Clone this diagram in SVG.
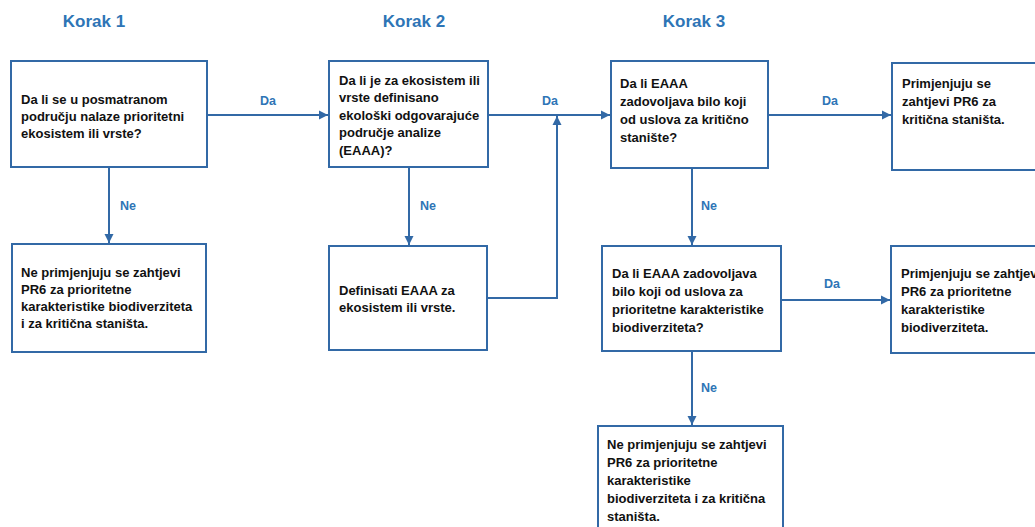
<svg xmlns="http://www.w3.org/2000/svg" width="1035" height="527" viewBox="0 0 1035 527">
<style>
.box{fill:#fff;stroke:#3269a6;stroke-width:2}
.t{font-family:"Liberation Sans",Arial,sans-serif;font-weight:bold;font-size:13px;fill:#111}
.h{font-family:"Liberation Sans",Arial,sans-serif;font-weight:bold;font-size:17px;fill:#2e75b6;text-anchor:middle}
.l{font-family:"Liberation Sans",Arial,sans-serif;font-weight:bold;font-size:12.5px;fill:#2e75b6;text-anchor:middle}
.c{fill:none;stroke:#3269a6;stroke-width:2}
</style>
<defs>
<marker id="arr" markerUnits="userSpaceOnUse" markerWidth="10" markerHeight="10" refX="9" refY="5" orient="auto">
<path d="M0,0.5 L9,5 L0,9.5 z" fill="#3269a6"/>
</marker>
</defs>
<rect width="1035" height="527" fill="#fff"/>
<g id="headers">
<text class="h" x="94" y="27">Korak 1</text>
<text class="h" x="414" y="27">Korak 2</text>
<text class="h" x="694" y="27">Korak 3</text>
</g>
<g id="connectors">
<path class="c" d="M207,115 H328" marker-end="url(#arr)"/>
<path class="c" d="M109,167 V243" marker-end="url(#arr)"/>
<path class="c" d="M409,167 V245" marker-end="url(#arr)"/>
<path class="c" d="M488,115 H610" marker-end="url(#arr)"/>
<path class="c" d="M487,298 H557 V116" marker-end="url(#arr)"/>
<path class="c" d="M768,115 H891" marker-end="url(#arr)"/>
<path class="c" d="M692,168 V245" marker-end="url(#arr)"/>
<path class="c" d="M781,300 H890" marker-end="url(#arr)"/>
<path class="c" d="M692,351 V425" marker-end="url(#arr)"/>
<text class="l" x="268" y="105">Da</text>
<text class="l" x="550" y="105">Da</text>
<text class="l" x="830" y="105">Da</text>
<text class="l" x="832" y="288">Da</text>
<text class="l" x="128" y="210">Ne</text>
<text class="l" x="428" y="210">Ne</text>
<text class="l" x="709" y="210">Ne</text>
<text class="l" x="709" y="392">Ne</text>
</g>
<g id="n1">
<rect class="box" x="11" y="61" width="196" height="106"/>
<text class="t" x="21" y="104">Da li se u posmatranom</text>
<text class="t" x="21" y="121">području nalaze prioritetni</text>
<text class="t" x="21" y="138">ekosistem ili vrste?</text>
</g>
<g id="n2">
<rect class="box" x="12" y="244" width="194" height="108"/>
<text class="t" x="21" y="277">Ne primjenjuju se zahtjevi</text>
<text class="t" x="21" y="294">PR6 za prioritetne</text>
<text class="t" x="21" y="311">karakteristike biodiverziteta</text>
<text class="t" x="21" y="328">i za kritična staništa.</text>
</g>
<g id="n3">
<rect class="box" x="329" y="61" width="159" height="106"/>
<text class="t" x="339" y="85">Da li je za ekosistem ili</text>
<text class="t" x="339" y="102">vrste definisano</text>
<text class="t" x="339" y="120">ekološki odgovarajuće</text>
<text class="t" x="339" y="137">područje analize</text>
<text class="t" x="339" y="155">(EAAA)?</text>
</g>
<g id="n4">
<rect class="box" x="329" y="246" width="158" height="104"/>
<text class="t" x="339" y="295">Definisati EAAA za</text>
<text class="t" x="339" y="312">ekosistem ili vrste.</text>
</g>
<g id="n5">
<rect class="box" x="611" y="61" width="157" height="107"/>
<text class="t" x="620" y="88">Da li EAAA</text>
<text class="t" x="620" y="106">zadovoljava bilo koji</text>
<text class="t" x="620" y="124">od uslova za kritično</text>
<text class="t" x="620" y="142">stanište?</text>
</g>
<g id="n6">
<rect class="box" x="892" y="63" width="160" height="107"/>
<text class="t" x="902" y="88">Primjenjuju se</text>
<text class="t" x="902" y="106">zahtjevi PR6 za</text>
<text class="t" x="902" y="124">kritična staništa.</text>
</g>
<g id="n7">
<rect class="box" x="602" y="246" width="179" height="105"/>
<text class="t" x="612" y="278">Da li EAAA zadovoljava</text>
<text class="t" x="612" y="296">bilo koji od uslova za</text>
<text class="t" x="612" y="314">prioritetne karakteristike</text>
<text class="t" x="612" y="332">biodiverziteta?</text>
</g>
<g id="n8">
<rect class="box" x="891" y="246" width="160" height="107"/>
<text class="t" x="901" y="278">Primjenjuju se zahtjevi</text>
<text class="t" x="901" y="296">PR6 za prioritetne</text>
<text class="t" x="901" y="314">karakteristike</text>
<text class="t" x="901" y="332">biodiverziteta.</text>
</g>
<g id="n9">
<rect class="box" x="598" y="426" width="185" height="115"/>
<text class="t" x="607" y="449">Ne primjenjuju se zahtjevi</text>
<text class="t" x="607" y="467">PR6 za prioritetne</text>
<text class="t" x="607" y="485">karakteristike</text>
<text class="t" x="607" y="503">biodiverziteta i za kritična</text>
<text class="t" x="607" y="521">staništa.</text>
</g>
</svg>
